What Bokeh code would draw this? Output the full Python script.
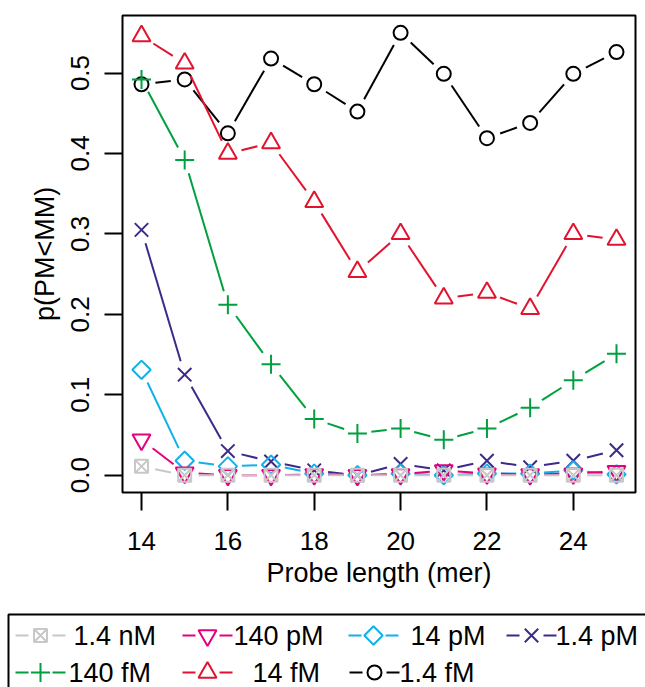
import math
from bokeh.plotting import figure
from bokeh.models import Range1d, FixedTicker, NumeralTickFormatter, BoxAnnotation
from bokeh.embed import file_html
from bokeh.resources import INLINE
from bokeh.core.properties import value

# ---------------- data ----------------
probe_length = [14, 15, 16, 17, 18, 19, 20, 21, 22, 23, 24, 25]

conc_1_4_fM = [0.486, 0.492, 0.425, 0.518, 0.486, 0.452, 0.550, 0.499, 0.419, 0.438, 0.499, 0.526]
conc_14_fM = [0.546, 0.512, 0.400, 0.413, 0.340, 0.253, 0.300, 0.220, 0.227, 0.207, 0.300, 0.293]
conc_140_fM = [0.492, 0.392, 0.212, 0.138, 0.070, 0.052, 0.058, 0.044, 0.058, 0.084, 0.118, 0.151]
conc_1_4_pM = [0.305, 0.125, 0.030, 0.017, 0.006, 0.000, 0.014, 0.006, 0.018, 0.010, 0.018, 0.031]
conc_14_pM = [0.131, 0.018, 0.011, 0.013, 0.002, 0.000, 0.002, 0.000, 0.002, 0.002, 0.006, 0.001]
conc_140_pM = [0.044, 0.003, 0.000, 0.000, 0.001, 0.000, 0.001, 0.006, 0.002, 0.001, 0.002, 0.005]
conc_1_4_nM = [0.011, 0.000, 0.000, 0.000, 0.000, 0.000, 0.000, 0.000, 0.000, 0.000, 0.000, 0.000]

legend_labels = ["1.4 nM", "140 pM", "14 pM", "1.4 pM", "140 fM", "14 fM", "1.4 fM"]
x_ticks = [14, 16, 18, 20, 22, 24]
y_ticks = [0.0, 0.1, 0.2, 0.3, 0.4, 0.5]

# ---------------- styles ----------------
FONT = "Liberation Sans"
styles = {
    "1.4 nM": dict(color="#c8c8c8", marker="square_x", size=13, angle=0.0),
    "140 pM": dict(color="#e5007e", marker="inverted_triangle", size=18, angle=0.0),
    "14 pM": dict(color="#12b0ea", marker="square", size=13, angle=math.pi / 4),
    "1.4 pM": dict(color="#3d2a88", marker="x", size=19, angle=0.0),
    "140 fM": dict(color="#00a03e", marker="cross", size=19, angle=0.0),
    "14 fM": dict(color="#e2132f", marker="triangle", size=18, angle=0.0),
    "1.4 fM": dict(color="#000000", marker="circle", size=14, angle=0.0),
}
series = {
    "1.4 nM": conc_1_4_nM,
    "140 pM": conc_140_pM,
    "14 pM": conc_14_pM,
    "1.4 pM": conc_1_4_pM,
    "140 fM": conc_140_fM,
    "14 fM": conc_14_fM,
    "1.4 fM": conc_1_4_fM,
}
draw_order = ["1.4 fM", "14 fM", "140 fM", "1.4 pM", "14 pM", "140 pM", "1.4 nM"]

# ---------------- main plot ----------------
W = 645
FRAME_W, FRAME_H = 513, 477
X0, X1 = 13.56, 25.44
Y0, Y1 = -0.0215, 0.5715

p = figure(width=W, height=610, x_range=Range1d(X0, X1), y_range=Range1d(Y0, Y1),
           output_backend="svg", toolbar_location=None,
           min_border_left=122, min_border_right=10, min_border_top=15, min_border_bottom=118)
p.xgrid.visible = False
p.ygrid.visible = False
p.outline_line_color = "black"
p.outline_line_width = 2
p.background_fill_color = "white"
p.border_fill_color = "white"

p.xaxis.ticker = FixedTicker(ticks=x_ticks)
p.yaxis.ticker = FixedTicker(ticks=y_ticks)
p.yaxis.formatter = NumeralTickFormatter(format="0.0")
for ax in (p.xaxis, p.yaxis):
    ax.axis_line_color = None
    ax.major_tick_in = 0
    ax.major_tick_out = 18
    ax.major_tick_line_width = 2
    ax.major_tick_line_color = "black"
    ax.minor_tick_line_color = None
    ax.major_label_text_font = FONT
    ax.major_label_text_font_size = "26px"
    ax.major_label_text_color = "black"
    ax.axis_label_text_font = FONT
    ax.axis_label_text_font_size = "27px"
    ax.axis_label_text_font_style = "normal"
    ax.axis_label_text_color = "black"
p.xaxis.axis_label = "Probe length (mer)"
p.yaxis.axis_label = "p(PM<MM)"
p.yaxis.major_label_orientation = "vertical"
p.xaxis.major_label_standoff = 21
p.yaxis.major_label_standoff = 15
p.xaxis.axis_label_standoff = 5
p.yaxis.axis_label_standoff = 9

# pixel scale for type="b" style gaps
sx = FRAME_W / (X1 - X0)
sy = FRAME_H / (Y1 - Y0)
GAP = 14.0

for name in draw_order:
    ys = series[name]
    st = styles[name]
    x0s, y0s, x1s, y1s = [], [], [], []
    for i in range(len(probe_length) - 1):
        xa, xb = probe_length[i], probe_length[i + 1]
        ya, yb = ys[i], ys[i + 1]
        L = math.hypot((xb - xa) * sx, (yb - ya) * sy)
        if L > 2 * GAP + 1:
            t = GAP / L
            x0s.append(xa + (xb - xa) * t)
            y0s.append(ya + (yb - ya) * t)
            x1s.append(xb - (xb - xa) * t)
            y1s.append(yb - (yb - ya) * t)
    p.segment(x0s, y0s, x1s, y1s, line_color=st["color"], line_width=2)
    p.scatter(probe_length, ys, marker=st["marker"], size=st["size"], angle=st["angle"],
              fill_color=None, line_color=st["color"], line_width=2)

# ---------------- legend (drawn as its own small figure) ----------------
LH = 77
lg = figure(width=W, height=LH, x_range=Range1d(0, W), y_range=Range1d(LH, 0),
            output_backend="svg", toolbar_location=None, min_border=0,
            x_axis_location=None, y_axis_location=None)
lg.xgrid.visible = False
lg.ygrid.visible = False
lg.outline_line_color = None
lg.background_fill_color = "white"
lg.border_fill_color = "white"
lg.add_layout(BoxAnnotation(left=8, right=W + 50, top=4, bottom=LH + 50,
                            fill_color=None, fill_alpha=0, line_color="black",
                            line_alpha=1.0, line_width=2))

line_start = [15, 182, 348, 506, 15, 182, 349]
text_start = [73, 233, 410, 555, 68, 252, 399]
row_y = [25, 25, 25, 25, 62, 62, 62]
SEG = 50
LGAP = 12
for k, name in enumerate(legend_labels):
    st = styles[name]
    xs0 = line_start[k]
    xc = xs0 + SEG / 2
    yc = row_y[k]
    lg.segment([xs0, xc + LGAP], [yc, yc], [xc - LGAP, xs0 + SEG], [yc, yc],
               line_color=st["color"], line_width=2)
    lg.scatter([xc], [yc], marker=st["marker"], size=st["size"], angle=st["angle"],
               fill_color=None, line_color=st["color"], line_width=2)
    lg.text([text_start[k]], [yc], text=[name], text_font=value(FONT),
            text_font_size="27px", text_baseline="middle", text_align="left",
            text_color="black")

open("out.html", "w").write(file_html([p, lg], INLINE))
